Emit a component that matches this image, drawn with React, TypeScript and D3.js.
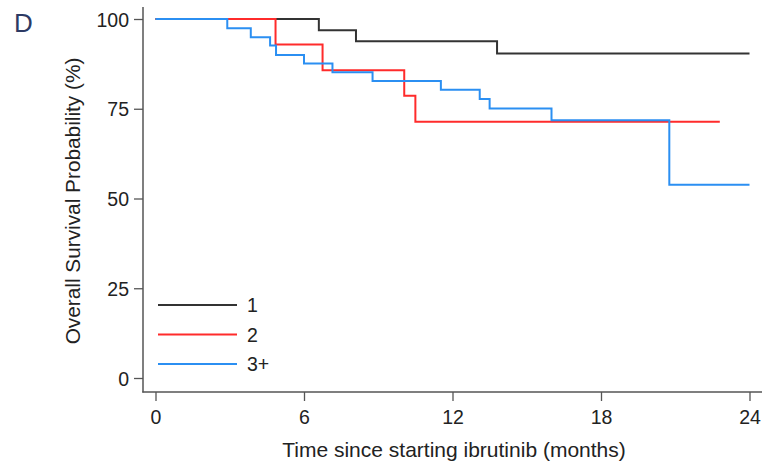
import React, {useEffect, useRef} from 'react';
import * as d3 from 'd3';

// Kaplan-Meier step points: [month, survival %]
const group1Times = [0, 6.6, 8.1, 13.8, 24];
const group1Surv = [100, 96.9, 93.8, 90.4, 90.4];

const group2Times = [0, 4.85, 6.75, 10.05, 10.5, 22.8];
const group2Surv = [100, 92.9, 85.7, 78.6, 71.4, 71.4];

const group3Times = [0, 2.9, 3.85, 4.63, 4.87, 6.0, 7.15, 8.77, 11.53, 13.1, 13.5, 16.0, 20.76, 24];
const group3Surv = [100, 97.4, 94.9, 92.6, 90.0, 87.6, 85.2, 82.7, 80.3, 77.7, 75.1, 71.8, 53.8, 53.8];

const legendLabels = ['1', '2', '3+'];
const seriesColors = ['#333333', '#ff2b2b', '#2b8ff2'];
const xTicks = [0, 6, 12, 18, 24];
const yTicks = [0, 25, 50, 75, 100];

const FONT = '"Liberation Sans", Arial, sans-serif';

export default function App() {
    const ref = useRef<SVGSVGElement>(null);

    useEffect(() => {
        const svg = d3.select(ref.current);
        svg.selectAll('*').remove();

        const x = d3.scaleLinear().domain([0, 24]).range([155.5, 749.5]);
        const y = d3.scaleLinear().domain([0, 100]).range([378, 19]);

        const axisColor = '#555';

        // y axis
        const yAxis = svg.append('g')
            .attr('transform', 'translate(143,0)')
            .call(d3.axisLeft(y).tickValues(yTicks).tickSize(9).tickPadding(5).tickSizeOuter(0));
        yAxis.select('.domain').remove();
        yAxis.attr('font-size', null).attr('font-family', null);
        yAxis.selectAll('line').attr('stroke', axisColor).attr('stroke-width', 1.3);
        yAxis.selectAll('text')
            .attr('dy', '0.36em')
            .style('font-family', FONT).style('font-size', '19.5px').attr('fill', '#222');
        svg.append('line')
            .attr('x1', 143).attr('x2', 143).attr('y1', 7).attr('y2', 392.5)
            .attr('stroke', axisColor).attr('stroke-width', 1.5);

        // x axis
        const xAxis = svg.append('g')
            .attr('transform', 'translate(0,392)')
            .call(d3.axisBottom(x).tickValues(xTicks).tickSize(9).tickPadding(8).tickSizeOuter(0));
        xAxis.select('.domain').remove();
        xAxis.attr('font-size', null).attr('font-family', null);
        xAxis.selectAll('line').attr('stroke', axisColor).attr('stroke-width', 1.3);
        xAxis.selectAll('text')
            .attr('y', 32).attr('dy', null)
            .style('font-family', FONT).style('font-size', '19.5px').attr('fill', '#222');
        svg.append('line')
            .attr('x1', 142.3).attr('x2', 762).attr('y1', 392).attr('y2', 392)
            .attr('stroke', axisColor).attr('stroke-width', 1.5);

        // survival curves
        const series = [
            group1Times.map((t, i) => [t, group1Surv[i]]),
            group2Times.map((t, i) => [t, group2Surv[i]]),
            group3Times.map((t, i) => [t, group3Surv[i]]),
        ];
        const line = d3.line<number[]>()
            .x(d => x(d[0]))
            .y(d => y(d[1]))
            .curve(d3.curveStepAfter);

        series.forEach((s, i) => {
            svg.append('path')
                .datum(s)
                .attr('fill', 'none')
                .attr('stroke', seriesColors[i])
                .attr('stroke-width', 2)
                .attr('d', line);
        });

        // legend
        const legend = svg.append('g');
        legendLabels.forEach((lab, i) => {
            const ly = 305 + i * 29.5;
            legend.append('line')
                .attr('x1', 158).attr('x2', 237).attr('y1', ly).attr('y2', ly)
                .attr('stroke', seriesColors[i]).attr('stroke-width', 2);
            legend.append('text')
                .attr('x', 247).attr('y', ly + 7)
                .style('font-family', FONT).style('font-size', '19.5px').attr('fill', '#222')
                .text(lab);
        });

        // axis titles
        svg.append('text')
            .attr('x', 454).attr('y', 457)
            .attr('text-anchor', 'middle')
            .style('font-family', FONT).style('font-size', '21px').attr('fill', '#222')
            .text('Time since starting ibrutinib (months)');
        svg.append('text')
            .attr('transform', 'translate(80,201) rotate(-90)')
            .attr('text-anchor', 'middle')
            .style('font-family', FONT).style('font-size', '20.8px').attr('fill', '#222')
            .text('Overall Survival Probability (%)');

        // panel letter
        svg.append('text')
            .attr('x', 14).attr('y', 32)
            .style('font-family', FONT).style('font-size', '26px').attr('fill', '#2c3a64')
            .text('D');
    }, []);

    return <svg ref={ref} width={762} height={468}
                style={{position: 'absolute', left: 0, top: 0, background: '#fff'}}/>;
}
